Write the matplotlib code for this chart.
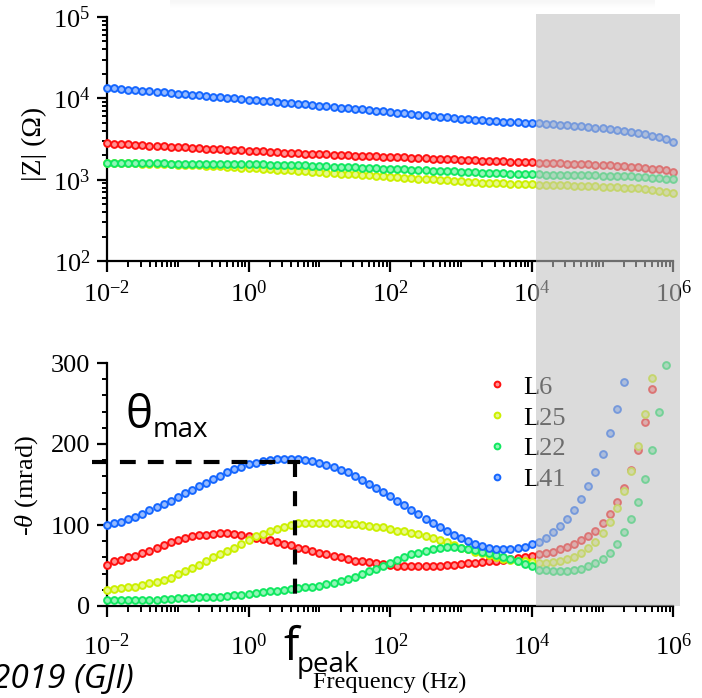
import numpy as np
import matplotlib
matplotlib.use('Agg')
import matplotlib.pyplot as plt
from matplotlib.patches import Rectangle
from matplotlib.ticker import FixedLocator, LogLocator, MultipleLocator, FuncFormatter, NullFormatter
from matplotlib.colors import to_rgb

plt.rcParams['font.family'] = ['Liberation Serif', 'DejaVu Serif']
plt.rcParams['mathtext.fontset'] = 'custom'
plt.rcParams['mathtext.rm'] = 'Liberation Serif'
plt.rcParams['mathtext.it'] = 'Liberation Serif:italic'

# sweep: 10 points per decade, 1e-2 .. 1e6 Hz
freq = np.logspace(-2, 6, 81)

labels = ['L6', 'L25', 'L22', 'L41']
colours = ['#ff1010', '#ccf000', '#10e860', '#1466ff']

# |Z| (ohm)
z_l6 = [2800, 2770, 2740, 2710, 2680, 2650, 2630, 2600, 2570, 2540, 2520, 2490, 2470, 2440,
        2410, 2390, 2360, 2340, 2320, 2290, 2270, 2240, 2220, 2200, 2170, 2150, 2130, 2110,
        2090, 2080, 2060, 2040, 2030, 2010, 2000, 1980, 1970, 1950, 1940, 1920, 1910, 1890,
        1880, 1860, 1850, 1830, 1820, 1800, 1790, 1780, 1760, 1750, 1740, 1720, 1710,
        1690, 1680, 1670, 1660, 1650, 1630, 1620, 1610, 1600, 1590, 1580, 1560, 1550, 1540,
        1530, 1510, 1500, 1480, 1460, 1440, 1420, 1390, 1370, 1340, 1300, 1250]
z_l25 = [1600, 1596, 1591, 1587, 1582, 1578, 1569, 1560, 1551, 1542, 1533, 1521, 1508, 1495,
         1483, 1470, 1453, 1437, 1420, 1404, 1389, 1373, 1358, 1342, 1327, 1313, 1298, 1283,
         1267, 1251, 1235, 1219, 1204, 1189, 1174, 1159, 1144, 1130, 1115, 1101, 1087, 1074,
         1060, 1046, 1033, 1020, 1007, 994, 982, 969, 957, 945, 933, 921, 909,
         903, 898, 893, 885, 880, 875, 871, 866, 861, 853, 849, 844, 836, 832, 825, 818,
         811, 804, 797, 791, 782, 768, 753, 732, 708, 679]
z_l22 = [1610, 1610, 1610, 1600, 1600, 1600, 1590, 1590, 1590, 1580, 1580, 1580, 1570, 1570,
         1570, 1560, 1560, 1550, 1550, 1550, 1540, 1540, 1540, 1530, 1530, 1520, 1520, 1510,
         1500, 1488, 1476, 1463, 1451, 1439, 1428, 1416, 1404, 1393, 1381, 1370, 1359, 1348,
         1337, 1326, 1315, 1304, 1294, 1283, 1273, 1262, 1252, 1242, 1231, 1221, 1211,
         1206, 1195, 1189, 1179, 1172, 1162, 1159, 1155, 1152, 1149, 1146, 1142, 1139, 1133,
         1130, 1123, 1117, 1110, 1104, 1095, 1086, 1074, 1061, 1046, 1032, 1017]
z_l41 = [13490, 13270, 13060, 12820, 12620, 12420, 12220, 11990, 11800, 11610, 11430, 11220,
         11040, 10860, 10670, 10500, 10330, 10140, 9980, 9820, 9660, 9480, 9330, 9180, 9020,
         8870, 8730, 8590,
         8430, 8280, 8130, 7980, 7830, 7690, 7550, 7430, 7290, 7160, 7030, 6900, 6780, 6650,
         6530, 6410, 6310, 6190, 6080, 5970, 5860, 5750, 5650, 5550, 5450, 5350, 5260,
         5210, 5170, 5130, 5080, 5040, 5000, 4950, 4900, 4830, 4760, 4690, 4620, 4540, 4450,
         4360, 4280, 4180, 4090, 3980, 3870, 3750, 3620, 3470, 3300, 3120, 2920]

# -phase (mrad); points above 300 mrad are off the axis and left out
ph_l6 = [51, 55, 57, 60, 62, 65, 68, 72, 75, 79, 82, 84, 86, 88, 88, 89, 90, 90, 89, 88, 87,
         84, 83, 81, 79, 77, 75, 72, 70, 68, 66, 64, 62, 60, 58, 56, 55, 54, 53, 52, 51,
         50, 50, 50, 50, 50, 50, 50, 51, 51, 52, 53, 53, 54, 55, 56, 57, 58, 59, 61, 62,
         64, 65, 67, 70, 73, 77, 82, 87, 93, 103, 114, 128, 146, 168, 193, 227, 268]
ph_l25 = [20, 21, 22, 23, 24, 26, 28, 30, 32, 35, 39, 43, 47, 51, 55, 60, 64, 68, 72, 77, 82,
          86, 89, 92, 95, 98, 100, 102, 103, 103, 103, 103, 103, 102, 101, 101, 100, 99, 98, 97, 95,
          93, 92, 90, 89, 87, 84, 82, 79, 75, 72, 70, 67, 65, 63, 60, 58, 57, 56, 55, 54,
          53, 53, 54, 55, 58, 61, 65, 71, 79, 90, 104, 121, 142, 167, 198, 237, 281]
ph_l22 = [8, 7.5, 7, 7, 7, 7, 7.5, 8, 8.5, 9, 9.5, 10, 10, 10.5, 11, 11, 11.5, 12, 13, 14, 14.5,
          16, 17, 18, 18.5, 20, 21, 22, 23, 24, 25, 27, 29, 31, 33, 36, 40, 43, 46, 49, 53,
          57, 60, 64, 66, 68, 70, 72, 73, 73, 72, 70, 69, 67, 65, 63, 60, 58, 55, 52, 49,
          45, 44, 43, 43, 43, 44, 46, 49, 53, 58, 66, 77, 91, 107, 129, 157, 193, 239, 298]
ph_l41 = [100, 102, 104, 107, 110, 114, 118, 122, 126, 130, 134, 139, 143, 148, 152, 157, 161,
          165, 169, 172, 175,
          177, 179, 180, 181, 182, 181, 181, 180, 179, 176, 174, 171, 168, 165, 160, 156, 151,
          146, 141, 136,
          130, 125, 119, 114, 108, 103, 98, 93, 88, 84, 80, 77, 74, 72, 70, 70, 70, 71, 73, 76,
          79, 84, 91, 99, 108, 119, 132, 148, 166, 188, 214, 243, 277]

theta_max = 178
f_peak = 4.5

W, H = 702, 698


def pad(vals):
    return np.array(list(vals) + [np.nan] * (len(freq) - len(vals)), dtype=float)


def dots(ax, y, colour, label=None):
    light = 0.45 * np.array(to_rgb(colour)) + 0.55
    ax.plot(freq, y, ls='none', marker='o', ms=4.9, mew=1.4, mec=colour, mfc=light,
            clip_on=False, zorder=3, label=label)


def style_axis(ax, label_pad):
    for side in ['top', 'right']:
        ax.spines[side].set_visible(False)
    for side in ['left', 'bottom']:
        ax.spines[side].set_linewidth(1.6)
    ax.set_xscale('log')
    ax.set_xlim(1e-2, 1e6)
    ax.xaxis.set_major_locator(FixedLocator([1e-2, 1e0, 1e2, 1e4, 1e6]))
    ax.xaxis.set_major_formatter(FuncFormatter(lambda v, p: r'$10^{%d}$' % round(np.log10(v))))
    ax.xaxis.set_minor_locator(LogLocator(base=10, subs=np.arange(1, 10), numticks=40))
    ax.xaxis.set_minor_formatter(NullFormatter())
    ax.tick_params(axis='x', which='major', direction='out', length=8, width=1.6,
                   labelsize=19, pad=label_pad)
    ax.tick_params(axis='x', which='minor', direction='out', length=4.3, width=1.4)
    ax.tick_params(axis='y', which='major', direction='out', length=7, width=1.6,
                   labelsize=19, pad=5)
    ax.tick_params(axis='y', which='minor', direction='out', length=3.5, width=1.4)


fig = plt.figure(figsize=(W / 100, H / 100), dpi=100)
ax1 = fig.add_axes([107 / W, 1 - 261 / H, 566.3 / W, 244 / H])
ax2 = fig.add_axes([107 / W, 1 - 606 / H, 566.3 / W, 243 / H])

# impedance magnitude
for z, c in zip([z_l6, z_l25, z_l22, z_l41], colours):
    dots(ax1, z, c)
style_axis(ax1, 6)
ax1.set_yscale('log')
ax1.set_ylim(1e2, 1e5)
ax1.yaxis.set_major_locator(FixedLocator([1e2, 1e3, 1e4, 1e5]))
ax1.yaxis.set_major_formatter(FuncFormatter(lambda v, p: r'$10^{%d}$' % round(np.log10(v))))
ax1.yaxis.set_minor_locator(LogLocator(base=10, subs=np.arange(2, 10), numticks=20))
ax1.yaxis.set_minor_formatter(NullFormatter())
ax1.set_ylabel('|Z| (\u03a9)', fontsize=20)
ax1.yaxis.set_label_coords(-0.106, 0.48)

# phase
for ph, c, lab in zip([ph_l6, ph_l25, ph_l22, ph_l41], colours, labels):
    dots(ax2, pad(ph), c, lab)
style_axis(ax2, 12)
ax2.set_ylim(0, 300)
ax2.yaxis.set_major_locator(MultipleLocator(100))
ax2.yaxis.set_minor_locator(MultipleLocator(20))
ax2.set_ylabel(r'-$\theta$ (mrad)', fontsize=19)
ax2.yaxis.set_label_coords(-0.118, 0.494)
ax2.set_xlabel('Frequency (Hz)', fontsize=17.5)
ax2.xaxis.set_label_coords(0.5, -0.27)

ax2.plot([10 ** -2.21, 5.3], [theta_max, theta_max], color='black', lw=3,
         dashes=(3.8, 2.9), clip_on=False, zorder=4)
ax2.plot([f_peak, f_peak], [theta_max, 15], color='black', lw=3,
         dashes=(3.6, 3.4), clip_on=False, zorder=4)

ax2.legend(loc='upper left', bbox_to_anchor=(473 / W, 1 - 362 / H), bbox_transform=fig.transFigure,
           frameon=False, fontsize=19, handlelength=0.8, handletextpad=0.6, borderpad=0,
           labelspacing=0.28, markerscale=0.85)

sans = ['Open Sans', 'DejaVu Sans']
fig.text(126 / W, 1 - 428 / H, '\u03b8', fontsize=33, family=sans, ha='left', va='baseline')
fig.text(153 / W, 1 - 437 / H, 'max', fontsize=20, family=sans, ha='left', va='baseline')
fig.text(283 / W, 1 - 660 / H, 'f', fontsize=33, family=sans, ha='left', va='baseline')
fig.text(297 / W, 1 - 672 / H, 'peak', fontsize=20, family=sans, ha='left', va='baseline')
fig.text(134 / W, 1 - 688 / H, '2019 (GJI)', fontsize=24, family=sans, style='italic',
         ha='right', va='baseline')

# faint shadow along the top edge
sh = fig.add_axes([170 / W, 1 - 9 / H, 485 / W, 9 / H])
sh.imshow(np.linspace(0.07, 0.0, 9)[:, None] * np.ones((1, 50)), cmap='Greys', vmin=0, vmax=1,
          aspect='auto', interpolation='bilinear')
sh.axis('off')

# grey band over the high-frequency end
fig.add_artist(Rectangle((536 / W, 1 - 606 / H), 144 / W, 592 / H, transform=fig.transFigure,
                         facecolor=(0.757, 0.757, 0.757), alpha=0.57, edgecolor='none', zorder=20))

fig.savefig('out.png', dpi=100)
